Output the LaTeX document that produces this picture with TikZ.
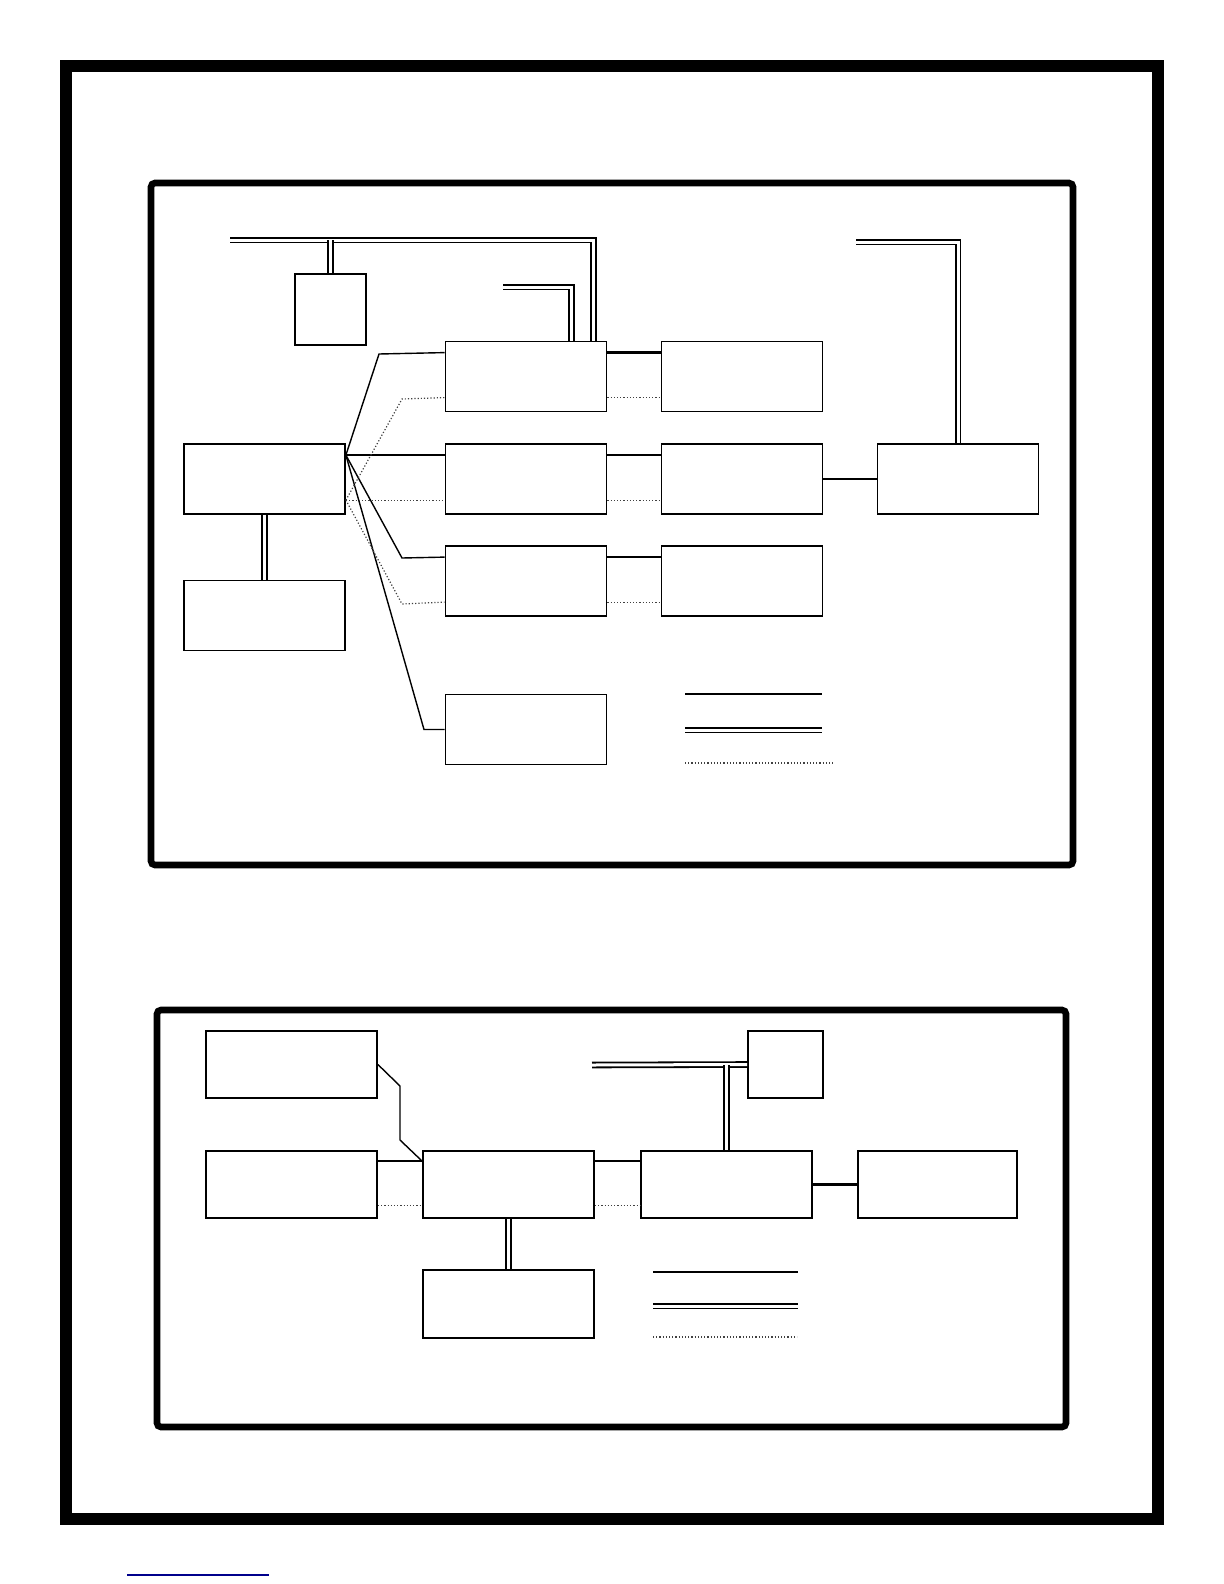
\documentclass[tikz,border=0pt]{standalone}
\usetikzlibrary{positioning}
\definecolor{linkblue}{RGB}{0,0,140}
\begin{document}
\begin{tikzpicture}[x=0.5pt,y=-0.5pt,
  blk/.style={draw,line width=0.9pt,inner sep=0pt,minimum width=80.5pt,minimum height=35pt},
  wblk/.style={blk,minimum width=85.5pt,minimum height=33.5pt},
  link/.style={line width=0.7pt},
  heavy/.style={line width=1.2pt},
  ctrl/.style={densely dotted,line width=0.6pt,black!75},
  bus/.style={double=white,double distance=1.5pt,line width=0.9pt},
  frame/.style={line width=3.3pt,rounded corners=2pt}]
  \useasboundingbox (0,0) rectangle (1224,1584);
  \draw [line width=6pt] (66,66) rectangle (1158,1519);
  \draw [frame] (151,183) rectangle (1073,865);
  \draw [frame] (157,1010) rectangle (1066,1427);
  \draw [linkblue,line width=0.6pt] (127,1575) -- (269,1575);
  % upper panel
  \node [blk,minimum width=35.5pt,minimum height=35.5pt] (ctl) at (330.5,309.5) {};
  \node [blk] (src) at (264.5,479) {};
  \node [blk] (store) at (264.5,615.5) {};
  \node [blk] (a2) at (526,376.5) {};
  \node [blk] (b2) at (526,479) {};
  \node [blk] (c2) at (526,581) {};
  \node [blk] (d2) at (526,729.5) {};
  \node [blk] (a3) at (742,376.5) {};
  \node [blk] (b3) at (742,479) {};
  \node [blk] (c3) at (742,581) {};
  \node [blk] (rt) at (958,479) {};
  \coordinate (busA) at (230,240);
  \coordinate (busB) at (503,287);
  \coordinate (busC) at (856,242);
  \draw [bus] (busA) -| ([xshift=-7pt]a2.north east);
  \draw [bus] (ctl.north |- busA) -- (ctl.north);
  \draw [bus] (busB) -| ([xshift=-18pt]a2.north east);
  \draw [bus] (busC) -| (rt.north);
  \draw [bus] (src.south) -- (store.north);
  \draw [link] ([yshift=-6pt]src.north east) -- (379,354) -- ([yshift=-6pt]a2.north west);
  \draw [link] ([yshift=-6pt]src.north east) -- ([yshift=-6pt]b2.north west);
  \draw [link] ([yshift=-6pt]src.north east) -- (402,558) -- ([yshift=-6pt]c2.north west);
  \draw [link] ([yshift=-6pt]src.north east) -- (424,729.5) -- (d2.west);
  \draw [ctrl] ([yshift=-28.5pt]src.north east) -- (402,399) -- ([yshift=-28.5pt]a2.north west);
  \draw [ctrl] ([yshift=-28.5pt]src.north east) -- ([yshift=-28.5pt]b2.north west);
  \draw [ctrl] ([yshift=-28.5pt]src.north east) -- (402,604) -- ([yshift=-28.5pt]c2.north west);
  \draw [heavy] ([yshift=-6pt]a2.north east) -- ([yshift=-6pt]a3.north west);
  \draw [heavy] ([yshift=-6pt]b2.north east) -- ([yshift=-6pt]b3.north west);
  \draw [heavy] ([yshift=-6pt]c2.north east) -- ([yshift=-6pt]c3.north west);
  \draw [ctrl] ([yshift=-28.5pt]a2.north east) -- ([yshift=-28.5pt]a3.north west);
  \draw [ctrl] ([yshift=-28.5pt]b2.north east) -- ([yshift=-28.5pt]b3.north west);
  \draw [ctrl] ([yshift=-28.5pt]c2.north east) -- ([yshift=-28.5pt]c3.north west);
  \draw [link] (b3.east) -- (rt.west);
  % upper legend
  \coordinate (ka1) at (685,694);
  \coordinate (ka2) at (822,694);
  \coordinate (kb1) at (685,730);
  \coordinate (kb2) at (822,730);
  \coordinate (kc1) at (685,763);
  \coordinate (kc2) at (833,763);
  \draw [link] (ka1) -- (ka2);
  \draw [bus] (kb1) -- (kb2);
  \draw [ctrl] (kc1) -- (kc2);
  % lower panel
  \node [wblk] (tl) at (291.5,1064.5) {};
  \node [wblk] (ml) at (291.5,1184.5) {};
  \node [wblk] (cen) at (508.5,1184.5) {};
  \node [wblk] (drv) at (726.5,1184.5) {};
  \node [wblk,minimum width=79.5pt] (out) at (937.5,1184.5) {};
  \node [wblk,minimum width=37.5pt] (sm) at (785.5,1064.5) {};
  \node [wblk,minimum height=34pt] (low) at (508.5,1304) {};
  \coordinate (busD) at (592,1065);
  \draw [bus] (busD) -- (sm.west);
  \draw [bus] (drv.north |- busD) -- (drv.north);
  \draw [bus] (cen.south) -- (low.north);
  \draw [link] (tl.east) -- (400,1086) -- (400,1140) -- ([yshift=-5.5pt]cen.north west);
  \draw [link] ([yshift=-5.5pt]ml.north east) -- ([yshift=-5.5pt]cen.north west);
  \draw [link] ([yshift=-5.5pt]cen.north east) -- ([yshift=-5.5pt]drv.north west);
  \draw [ctrl] ([yshift=-27.5pt]ml.north east) -- ([yshift=-27.5pt]cen.north west);
  \draw [ctrl] ([yshift=-27.5pt]cen.north east) -- ([yshift=-27.5pt]drv.north west);
  \draw [heavy] (drv.east) -- (out.west);
  % lower legend
  \coordinate (la1) at (653,1272);
  \coordinate (la2) at (798,1272);
  \coordinate (lb1) at (653,1306);
  \coordinate (lb2) at (798,1306);
  \coordinate (lc1) at (653,1337);
  \coordinate (lc2) at (797,1337);
  \draw [heavy] (la1) -- (la2);
  \draw [bus] (lb1) -- (lb2);
  \draw [ctrl] (lc1) -- (lc2);
\end{tikzpicture}
\end{document}
